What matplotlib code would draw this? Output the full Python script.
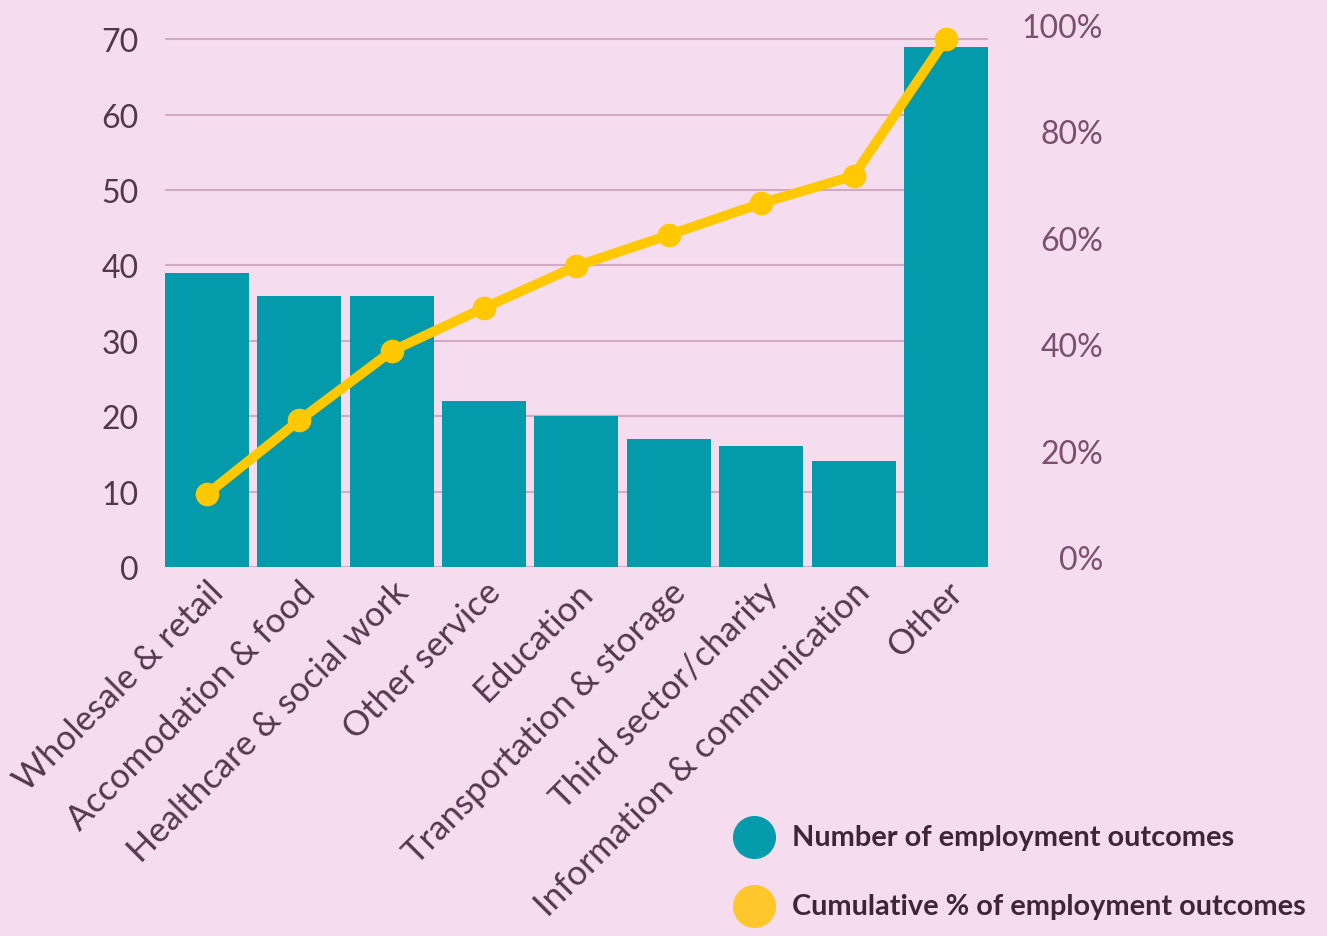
import numpy as np
import matplotlib
matplotlib.use('Agg')
import matplotlib.pyplot as plt
from matplotlib.lines import Line2D

# pareto-style chart: employment outcomes by sector

sectors = ['Wholesale & retail', 'Accomodation & food', 'Healthcare & social work',
           'Other service', 'Education', 'Transportation & storage',
           'Third sector/charity', 'Information & communication', 'Other']
outcomes = [39, 36, 36, 22, 20, 17, 16, 14, 69]
cumulative_pct = [0.138, 0.278, 0.409, 0.491, 0.570, 0.629, 0.689, 0.741, 1.0]

left_ticks = [0, 10, 20, 30, 40, 50, 60, 70]
right_ticks = [0.0, 0.2, 0.4, 0.6, 0.8, 1.0]

bg = '#F5DCEE'
teal = '#039BAB'
yellow = '#FFC800'
text_dark = '#55364F'
text_light = '#7A4F70'
grid_col = '#D2AAC6'

plt.rcParams['font.family'] = ['Lato', 'DejaVu Sans']

fig = plt.figure(figsize=(13.27, 9.37), dpi=100, facecolor=bg)
ax1 = fig.add_axes([0.1243, 0.3938, 0.6202, 0.5795])
ax1.set_facecolor(bg)

x = np.arange(len(sectors))
ax1.bar(x, outcomes, width=0.91, color=teal, zorder=2)
ax1.set_xlim(-0.455, 8.455)
ax1.set_ylim(0, 72)
ax1.set_yticks(left_ticks)
ax1.yaxis.grid(True, color=grid_col, linewidth=1.5, zorder=0)
ax1.set_axisbelow(True)
ax1.tick_params(axis='y', length=0, labelsize=23, labelcolor=text_dark, pad=19)
ax1.tick_params(axis='x', length=0, pad=6)
ax1.set_xticks(x)
ax1.set_xticklabels(sectors, rotation=45, ha='right', rotation_mode='anchor',
                    fontsize=25, color=text_dark)
for s in ax1.spines.values():
    s.set_visible(False)

ax2 = ax1.twinx()
ax2.plot(x, cumulative_pct, color=yellow, linewidth=7, marker='o', markersize=16,
         zorder=5, clip_on=False)
ax2.set_ylim(0, 72 / 70)
# right labels sit a little above the matching gridlines
ax2.set_yticks([0.019 + v * 1.008 for v in right_ticks])
ax2.set_yticklabels(['{:.0%}'.format(v) for v in right_ticks])
ax2.tick_params(axis='y', length=0, labelsize=23, labelcolor=text_light, pad=83)
for lbl in ax2.get_yticklabels():
    lbl.set_horizontalalignment('right')
for s in ax2.spines.values():
    s.set_visible(False)

# legend, drawn by hand
for yy, col, txt in [(838, teal, 'Number of employment outcomes'),
                     (907, '#FFC72C', 'Cumulative % of employment outcomes')]:
    fy = 1 - yy / 937
    fig.add_artist(Line2D([754 / 1327], [fy], marker='o', markersize=30,
                          color=col, transform=fig.transFigure, linestyle='none'))
    fig.text(792 / 1327, fy, txt, fontsize=20.8, fontweight='bold', color='#3E2638',
             va='center', ha='left')

fig.savefig('out.png', dpi=100, facecolor=bg)
